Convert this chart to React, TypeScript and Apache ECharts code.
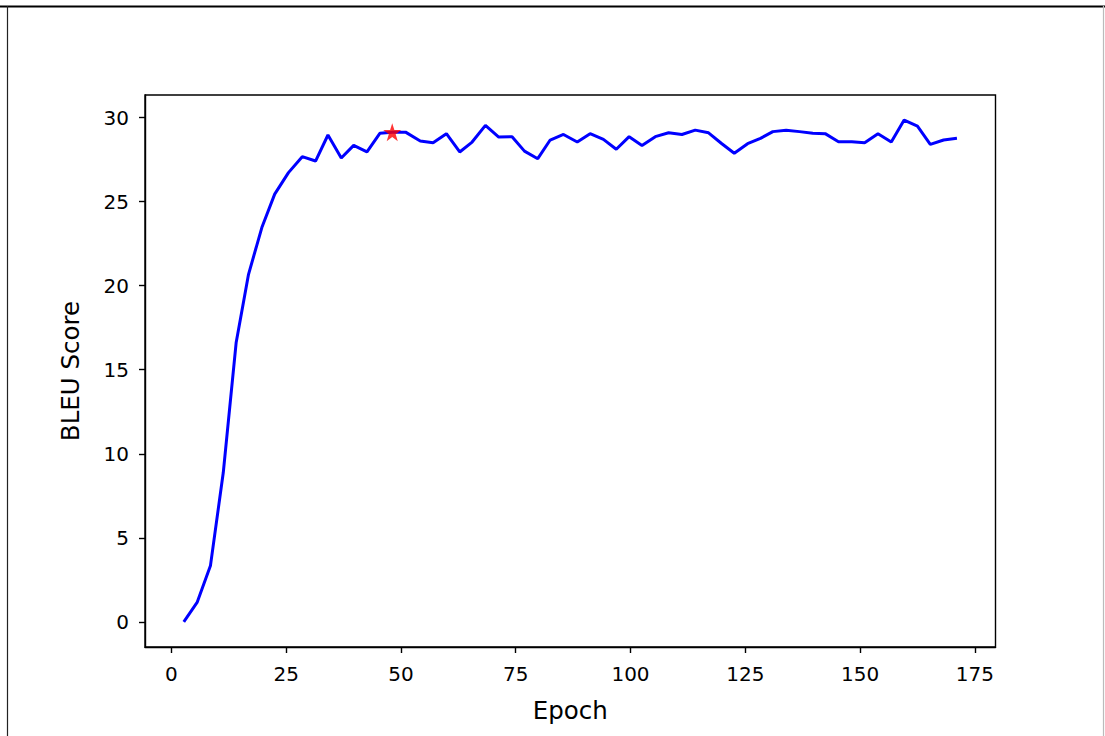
import React, { useEffect, useRef } from "react";
import * as echarts from "echarts";

const epochs = [
  2.7, 5.6, 8.5, 11.3, 14.1, 16.8, 19.7, 22.5, 25.5, 28.5, 31.4, 34.1, 37.0, 39.7,
  42.6, 45.4, 48.1, 51.0, 54.2, 57.0, 59.9, 62.8, 65.5, 68.4, 71.3, 74.2, 76.9,
  79.8, 82.5, 85.4, 88.4, 91.2, 94.1, 96.9, 99.7, 102.5, 105.4, 108.3, 111.2,
  114.1, 117.0, 119.9, 122.6, 125.5, 128.3, 131.0, 133.9, 136.8, 139.7, 142.4,
  145.3, 148.2, 151.0, 153.9, 156.8, 159.6, 162.5, 165.3, 168.2, 171.1,
];
const bleu = [
  0.0, 1.15, 3.33, 8.88, 16.6, 20.68, 23.46, 25.45, 26.73, 27.68, 27.42, 28.97,
  27.6, 28.35, 27.96, 29.07, 29.14, 29.14, 28.61, 28.51, 29.05, 27.96, 28.55,
  29.54, 28.85, 28.87, 28.01, 27.56, 28.67, 29.0, 28.55, 29.05, 28.71, 28.12,
  28.87, 28.35, 28.87, 29.1, 29.0, 29.26, 29.1, 28.45, 27.88, 28.45, 28.77,
  29.17, 29.25, 29.17, 29.07, 29.05, 28.57, 28.57, 28.51, 29.05, 28.55, 29.86,
  29.5, 28.41, 28.67, 28.77,
];
const bestEpoch = 48.1;
const bestBleu = 29.14;
const xTicks = [0, 25, 50, 75, 100, 125, 150, 175];
const yTicks = [0, 5, 10, 15, 20, 25, 30];

const STAR =
  "path://M50,0 L61.8,36.2 L100,36.2 L69.1,58.8 L80.9,95.1 L50,72.7 L19.1,95.1 L30.9,58.8 L0,36.2 L38.2,36.2 Z";

export default function App() {
  const ref = useRef<HTMLDivElement>(null);
  useEffect(() => {
    if (!ref.current) return;
    const chart = echarts.init(ref.current, null, { renderer: "svg" });
    const font = "DejaVu Sans";
    const axisCommon = {
      splitLine: { show: false },
      axisLine: { show: true, onZero: false, lineStyle: { color: "#000", width: 1.4 } },
      axisTick: {
        show: true,
        inside: false,
        length: 6,
        lineStyle: { color: "#000", width: 1.4 },
      },
      nameTextStyle: { fontFamily: font, fontSize: 24.5, color: "#000" },
    };
    chart.setOption({
      animation: false,
      backgroundColor: "#fff",
      grid: {
        left: 145,
        top: 95,
        right: 109.5,
        bottom: 89,
        show: true,
        borderColor: "#000",
        borderWidth: 1.4,
        containLabel: false,
      },
      xAxis: {
        ...axisCommon,
        type: "value",
        min: -5.75,
        max: 179.5,
        name: "Epoch",
        nameLocation: "middle",
        nameGap: 51,
        axisTick: { ...axisCommon.axisTick, customValues: xTicks },
        axisLabel: {
          customValues: xTicks,
          margin: 17,
          fontFamily: font,
          fontSize: 20,
          color: "#000",
        },
      },
      yAxis: {
        ...axisCommon,
        type: "value",
        min: -1.5,
        max: 31.35,
        name: "BLEU Score",
        nameLocation: "middle",
        nameGap: 62,
        axisTick: { ...axisCommon.axisTick, customValues: yTicks },
        axisLabel: {
          customValues: yTicks,
          margin: 16,
          fontFamily: font,
          fontSize: 20,
          color: "#000",
        },
      },
      series: [
        {
          type: "line",
          data: epochs.map((e, i) => [e, bleu[i]]),
          showSymbol: false,
          symbol: "none",
          lineStyle: { color: "#0000ff", width: 3 },
          itemStyle: { color: "#0000ff" },
          z: 2,
        },
        {
          type: "scatter",
          data: [[bestEpoch, bestBleu]],
          symbol: STAR,
          symbolSize: 18,
          itemStyle: { color: "#ff0000" },
          z: 3,
        },
      ],
      graphic: [
        {
          type: "line",
          shape: { x1: 0, y1: 6.5, x2: 1105, y2: 6.5 },
          style: { stroke: "#000", lineWidth: 2 },
        },
        {
          type: "line",
          shape: { x1: 7.5, y1: 6, x2: 7.5, y2: 736 },
          style: { stroke: "#222", lineWidth: 1.2 },
        },
        {
          type: "line",
          shape: { x1: 1103.5, y1: 6, x2: 1103.5, y2: 736 },
          style: { stroke: "#bbb", lineWidth: 1.2 },
        },
      ],
    });
    return () => chart.dispose();
  }, []);
  return (
    <div
      ref={ref}
      style={{ position: "absolute", left: 0, top: 0, width: 1105, height: 736 }}
    />
  );
}
